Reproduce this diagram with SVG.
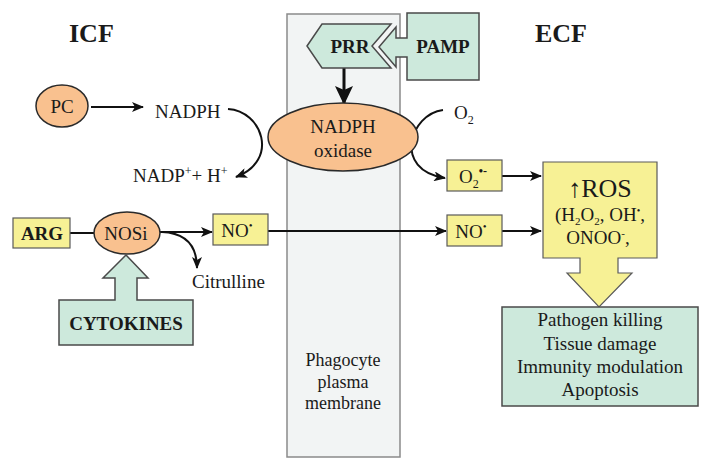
<svg xmlns="http://www.w3.org/2000/svg" width="707" height="469" viewBox="0 0 707 469">
<defs>
<style>
text{font-family:"Liberation Serif","Times New Roman",serif;fill:#1a1a1a;}
.t{font-size:19px;}
.b{font-weight:bold;}
.big{font-size:26px;font-weight:bold;}
.peach{fill:#f9c18f;stroke:#2a2a2a;stroke-width:1.5;}
.yel{fill:#f7f195;stroke:#5a5a5a;stroke-width:1.2;}
.grn{fill:#cde9dc;stroke:#4a4a4a;stroke-width:1.5;}
.ln{fill:none;stroke:#111;stroke-width:2;}
</style>
<marker id="ah" markerWidth="12" markerHeight="10" refX="11" refY="5" orient="auto" markerUnits="userSpaceOnUse">
<path d="M0,0 L12,5 L0,10 L3,5 Z" fill="#111"/>
</marker>
<marker id="ahb" markerWidth="20" markerHeight="18" refX="18" refY="9" orient="auto" markerUnits="userSpaceOnUse">
<path d="M0,0 L19,9 L0,18 L4,9 Z" fill="#111"/>
</marker>
</defs>
<rect width="707" height="469" fill="#fff"/>

<g id="membrane">
<rect x="287" y="14" width="113" height="443" fill="#f2f4f4" stroke="#8a8a8a" stroke-width="1.5"/>
<text class="t" x="343" y="366" text-anchor="middle" style="font-size:18px">Phagocyte</text>
<text class="t" x="343" y="388" text-anchor="middle" style="font-size:18px">plasma</text>
<text class="t" x="343" y="409" text-anchor="middle" style="font-size:18px">membrane</text>
</g>

<g id="icf"><text class="big" x="69" y="42">ICF</text></g>
<g id="ecf"><text class="big" x="535" y="42">ECF</text></g>

<g id="connectors">
<line class="ln" x1="91" y1="107" x2="143" y2="107" marker-end="url(#ah)"/>
<path class="ln" d="M228,109 C262,111 280,160 236,177" marker-end="url(#ah)"/>
<path class="ln" d="M443,110 C410,114 392,170 445,178" marker-end="url(#ah)"/>
<line x1="344" y1="68" x2="344" y2="104" stroke="#111" stroke-width="3" marker-end="url(#ahb)"/>
<line class="ln" x1="502" y1="176" x2="541" y2="176" marker-end="url(#ah)"/>
<line class="ln" x1="502" y1="231" x2="541" y2="231" marker-end="url(#ah)"/>
<line class="ln" x1="70" y1="233" x2="95" y2="233"/>
<line class="ln" x1="160" y1="232" x2="212" y2="232" marker-end="url(#ah)"/>
<path class="ln" d="M162,232 C185,233 197,245 197,268" marker-end="url(#ah)"/>
<line class="ln" x1="268" y1="231" x2="446" y2="231" marker-end="url(#ah)"/>
</g>

<g id="prr">
<path class="grn" d="M307,46 L322,24 H391 L372,46 L391,68 H322 Z"/>
<text class="t b" x="350" y="53" text-anchor="middle">PRR</text>
</g>

<g id="pamp">
<path class="grn" d="M407,13 H479 V80 H407 V57 H396 V67 L379,47 L396,27 V38 H407 Z"/>
<text class="t b" x="443" y="53" text-anchor="middle">PAMP</text>
</g>

<g id="pc">
<ellipse class="peach" cx="62" cy="106" rx="26" ry="21"/>
<text class="t" x="62" y="113" text-anchor="middle">PC</text>
</g>

<g id="nadph"><text class="t" x="155" y="118">NADPH</text></g>

<g id="nadp">
<text class="t" x="133" y="182">NADP<tspan font-size="12" dy="-7">+</tspan><tspan dy="7">+ H</tspan><tspan font-size="12" dy="-7">+</tspan></text>
</g>

<g id="nadph-oxidase">
<ellipse class="peach" cx="343" cy="137" rx="75" ry="34"/>
<text class="t" x="343" y="133" text-anchor="middle">NADPH</text>
<text class="t" x="343" y="157" text-anchor="middle">oxidase</text>
</g>

<g id="o2"><text class="t" x="454" y="119">O<tspan font-size="12" dy="5">2</tspan></text></g>

<g id="superoxide">
<rect class="yel" x="447" y="160" width="55" height="31"/>
<text class="t" x="459" y="183">O<tspan font-size="12" dy="5">2</tspan><tspan font-size="12" dy="-13" font-weight="bold">•-</tspan></text>
</g>

<g id="no-ecf">
<rect class="yel" x="447" y="215" width="55" height="31"/>
<text class="t" x="471" y="238" text-anchor="middle">NO<tspan font-size="11" dy="-8">•</tspan></text>
</g>

<g id="ros">
<path class="yel" d="M543,162 H657 V258 H618 V273 H632 L599,307 L567,273 H580 V258 H543 Z"/>
<text x="600" y="197" text-anchor="middle" style="font-size:26px">↑ROS</text>
<text class="t" x="600" y="221" text-anchor="middle">(H<tspan font-size="11" dy="4">2</tspan><tspan dy="-4">O</tspan><tspan font-size="11" dy="4">2</tspan><tspan dy="-4">, OH</tspan><tspan font-size="10" dy="-7">•</tspan><tspan dy="7">,</tspan></text>
<text class="t" x="598" y="244" text-anchor="middle">ONOO<tspan font-size="11" dy="-7">-</tspan><tspan dy="7">,</tspan></text>
</g>

<g id="outcomes">
<rect class="grn" x="502" y="307" width="196" height="99"/>
<text class="t" x="600" y="326" text-anchor="middle">Pathogen killing</text>
<text class="t" x="600" y="350" text-anchor="middle">Tissue damage</text>
<text class="t" x="600" y="373" text-anchor="middle">Immunity modulation</text>
<text class="t" x="600" y="396" text-anchor="middle">Apoptosis</text>
</g>

<g id="arg">
<rect class="yel" x="13" y="218" width="57" height="30"/>
<text class="t b" x="42" y="240" text-anchor="middle">ARG</text>
</g>

<g id="nosi">
<ellipse class="peach" cx="127" cy="233" rx="33" ry="21"/>
<text class="t" x="126" y="240" text-anchor="middle">NOSi</text>
</g>

<g id="no-icf">
<rect class="yel" x="213" y="214" width="55" height="31"/>
<text class="t" x="237" y="237" text-anchor="middle">NO<tspan font-size="11" dy="-8">•</tspan></text>
</g>

<g id="citrulline"><text class="t" x="192" y="288">Citrulline</text></g>

<g id="cytokines">
<path class="grn" d="M59,300 H115 V278 H103 L126,255 L148,278 H137 V300 H193 V345 H59 Z"/>
<text class="t b" x="126" y="330" text-anchor="middle">CYTOKINES</text>
</g>
</svg>
